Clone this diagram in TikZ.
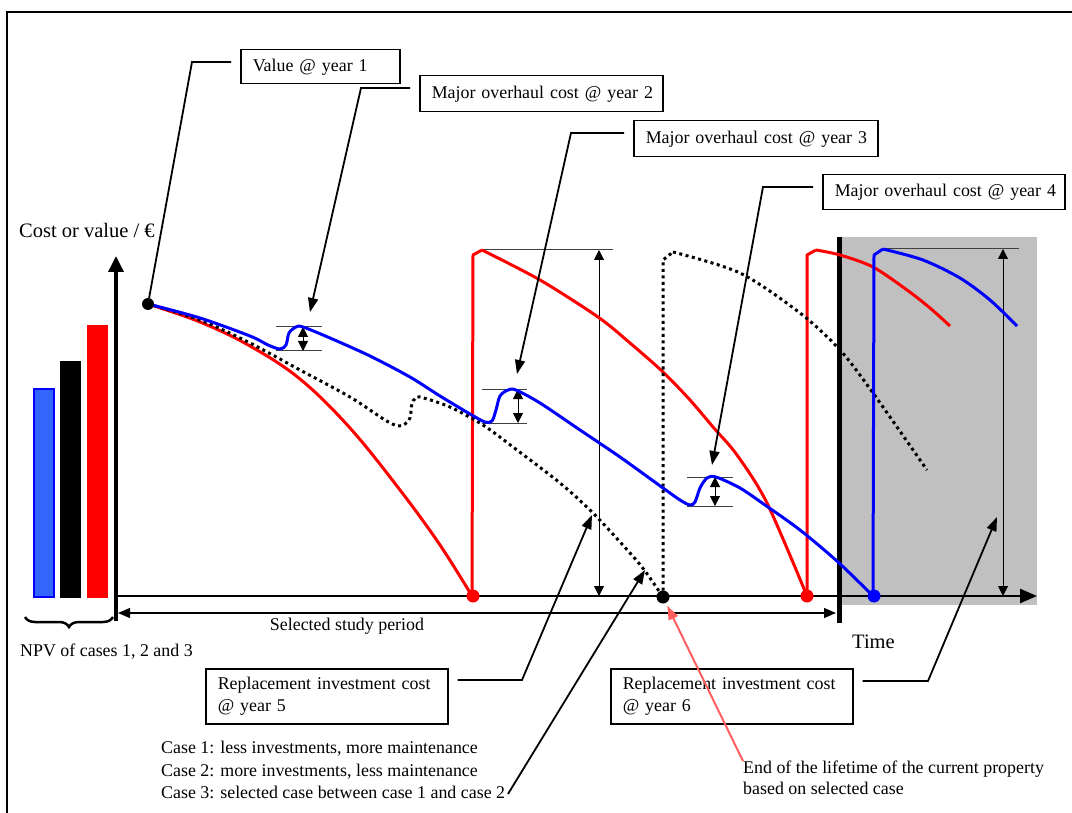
\documentclass[tikz,border=0pt]{standalone}
\usepackage{fontspec}
\setmainfont{Liberation Serif}
\usetikzlibrary{arrows.meta, decorations.pathreplacing}
\definecolor{caseBlue}{HTML}{0000FF}
\definecolor{barBlue}{HTML}{3366FF}
\definecolor{caseRed}{HTML}{FF0000}
\definecolor{lifeRed}{HTML}{FF5F5F}
\definecolor{futureGrey}{HTML}{C0C0C0}
\newcommand{\lblfont}{\fontsize{17.9}{22.5}\selectfont}
\newcommand{\axfont}{\fontsize{20.5}{24}\selectfont}

\begin{document}
\begin{tikzpicture}[x=1pt, y=-1pt,
	callbox/.style={draw, line width=1.5pt, anchor=north west, align=left, inner xsep=12pt, inner ysep=0pt, font=\lblfont},
	callout/.style={line width=1.8pt, -{Triangle[length=14pt,width=10pt]}, shorten <=9pt},
	plain/.style={inner sep=0pt, font=\lblfont},
	dimline/.style={line width=1pt, black!75},
	dimarrow/.style={line width=1pt, black, {Triangle[length=10pt,width=10pt]}-{Triangle[length=10pt,width=10pt]}},
	curve/.style={line width=3pt, line join=round},
	casethree/.style={line width=3pt, dash pattern=on 3pt off 3.5pt},
	dot/.style={circle, inner sep=0pt, minimum size=13pt}]
	
	% Page size and frame
	\useasboundingbox (0,0) rectangle (1072,813);
	\draw[line width=1.5pt] (7,813) -- (7,12) -- (1072,12);
	
	% Shaded part after the study period
	\fill[futureGrey] (842,237) rectangle (1037,605);
	
	% NPV bars of the three cases
	\filldraw[fill=barBlue, draw=caseBlue, line width=1.5pt] (34,389) rectangle (54,597);
	\fill[black] (60,361) rectangle (81,598);
	\fill[caseRed] (87,325) rectangle (108,598);
	\draw[line width=2.5pt, decorate, decoration={brace, amplitude=10pt}] (113,617) -- (25,617);
	
	% Axes
	\draw[line width=3.5pt, -{Triangle[length=16pt,width=15pt]}] (116,621) -- (116,256);
	\draw[line width=2.5pt, -{Triangle[length=17pt,width=14pt]}] (114,596) -- (1037,596);
	
	% Selected study period
	\draw[line width=5pt] (839,237) -- (839,623);
	\draw[line width=1.2pt, {Triangle[length=12pt,width=10pt]}-{Triangle[length=12pt,width=10pt]}] (118,613) -- (836,613);
	
	% Overhaul cost marks
	\draw[dimline] (276,327) -- (322,327) (276,351) -- (322,351);
	\draw[dimarrow] (303,327) -- (303,351);
	\draw[dimline] (482,389) -- (527,389) (482,423) -- (527,423);
	\draw[dimarrow] (518,389) -- (518,423);
	\draw[dimline] (687,477) -- (733,477) (687,506) -- (733,506);
	\draw[dimarrow] (715,477) -- (715,506);
	
	% Replacement cost marks
	\draw[dimline] (482,250) -- (613,250);
	\draw[dimarrow] (599,250) -- (599,596);
	\draw[dimline] (883,249) -- (1019,249);
	\draw[dimarrow] (1003,249) -- (1003,596);
	
	% Case 2 (red)
	\draw[curve, caseRed] plot[smooth, tension=0.6] coordinates {(148,304) (200,322) (250,346) (300,379) (350,428) (400,490) (440,545) (472,596)};
	\draw[curve, caseRed] (472,596) -- (473,255) -- (482,250);
	\draw[curve, caseRed] plot[smooth, tension=0.5] coordinates {(482,250) (540,280) (598,317) (630,343) (663,372) (690,400) (713,427) (737,455) (767,503) (807,596)};
	\draw[curve, caseRed] (807,596) -- (807,255) -- (816,250);
	\draw[curve, caseRed] plot[smooth, tension=0.5] coordinates {(816,250) (840,255) (873,267) (907,290) (930,308) (950,326)};
	
	% Case 3 (dotted)
	\draw[casethree] plot[smooth, tension=0.5] coordinates {(148,304) (200,320) (250,343) (300,370) (350,397) (385,420) (398,426) (405,424) (410,418) (412,403) (415,399) (420,397) (450,407) (483,425) (513,447) (560,483) (593,513) (630,553) (645,571) (663,597)};
	\draw[casethree] (663,597) -- (663,260) -- (673,252);
	\draw[casethree] plot[smooth, tension=0.5] coordinates {(673,252) (740,273) (800,313) (840,350) (873,393) (927,470)};
	
	% Case 1 (blue)
	\draw[curve, caseBlue] plot[smooth, tension=0.5] coordinates {(148,304) (200,318) (250,336) (268,345) (280,349) (286,345) (289,333) (296,327) (303,327) (330,338) (370,356) (410,377) (440,396) (470,414) (485,422) (492,421) (496,410) (500,396) (508,390) (516,390) (540,403) (580,430) (620,457) (663,488) (680,500) (690,505) (695,502) (700,488) (707,478) (716,477) (740,488) (765,505) (800,530) (838,562) (873,596)};
	\draw[curve, caseBlue] (873,596) -- (874,255) -- (883,249);
	\draw[curve, caseBlue] plot[smooth, tension=0.5] coordinates {(883,249) (923,260) (960,278) (990,300) (1017,326)};
	
	% Points on the time axis
	\node[dot, fill=black, minimum size=12pt] (p0) at (148,304) {};
	\node[dot, fill=caseRed] (r5) at (473,596) {};
	\node[dot, fill=black] (pe) at (663,597) {};
	\node[dot, fill=caseRed] (r6) at (807,596) {};
	\node[dot, fill=caseBlue] (bl) at (874,596) {};
	
	% Callout boxes
	\node[callbox, text width=135pt, minimum height=34pt] (b1) at (240,49) {\mbox{Value @ year 1}};
	\node[callbox, text width=219pt, minimum height=36pt] (b2) at (419,75) {\mbox{Major overhaul cost @ year 2}};
	\node[callbox, text width=220pt, minimum height=36pt] (b3) at (633,120) {\mbox{Major overhaul cost @ year 3}};
	\node[callbox, text width=218pt, minimum height=35pt] (b4) at (822,174) {\mbox{Major overhaul cost @ year 4}};
	\node[callbox, text width=218pt, minimum height=55pt] (b5) at (205,668) {Replacement investment cost\\@ year 5};
	\node[callbox, text width=218pt, minimum height=55pt] (b6) at (610,668) {Replacement investment cost\\@ year 6};
	
	% Callout connectors
	\coordinate (k1) at (192,62);
	\coordinate (k2) at (361,88);
	\coordinate (k3) at (571,133);
	\coordinate (k4) at (763,187);
	\coordinate (k5) at (522,680);
	\coordinate (k6) at (928,681);
	\coordinate (t2) at (310,312);
	\coordinate (t3) at (517,374);
	\coordinate (t4) at (712,465);
	\coordinate (t5) at (592,515);
	\coordinate (t6) at (997,517);
	\coordinate (t7) at (645,570);
	\coordinate (c7) at (508,794);
	\draw[line width=1.8pt, shorten <=9pt] (b1.west |- k1) -- (k1) -- (p0);
	\draw[callout] (b2.west |- k2) -- (k2) -- (t2);
	\draw[callout] (b3.west |- k3) -- (k3) -- (t3);
	\draw[callout] (b4.west |- k4) -- (k4) -- (t4);
	\draw[callout] (b5.east |- k5) -- (k5) -- (t5);
	\draw[callout] (b6.east |- k6) -- (k6) -- (t6);
	
	% Labels
	\node[plain, font=\axfont, anchor=west] (ylab) at (19,230) {Cost or value / €};
	\node[plain, font=\axfont, anchor=west] (xlab) at (852,642) {Time};
	\node[plain, anchor=west] (npv) at (20,652) {NPV of cases 1, 2 and 3};
	\node[plain] (study) at (347,626) {Selected study period};
	\node[plain, anchor=north west, align=left] (cases) at (161,741) {Case 1: less investments, more maintenance\\Case 2: more investments, less maintenance\\Case 3: selected case between case 1 and case 2};
	\node[plain, anchor=north west, align=left, font=\fontsize{17.9}{21}\selectfont] (life) at (743,761) {End of the lifetime of the current property\\based on selected case};
	
	\draw[callout, shorten <=0pt] (c7) -- (t7);
	\draw[line width=2pt, lifeRed, -{Triangle[length=14pt,width=10pt]}, shorten >=3pt] (life.north west) -- (pe);
\end{tikzpicture}
\end{document}
